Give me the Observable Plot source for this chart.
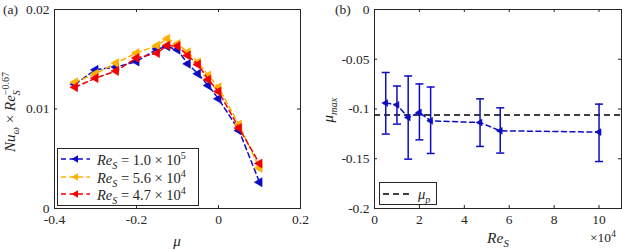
<!DOCTYPE html>
<html><head><meta charset="utf-8">
<script src="https://cdn.jsdelivr.net/npm/d3@7"></script>
<script src="https://cdn.jsdelivr.net/npm/@observablehq/plot@0.6"></script>
<style>
body{margin:0;background:#fff;}
#wrap{position:relative;width:622px;height:250px;overflow:hidden;font-family:"Liberation Serif","Times New Roman","DejaVu Serif",serif;color:#262626;}
#wrap svg.plot{position:absolute;top:0;}
.abs{position:absolute;white-space:nowrap;line-height:1;}
.m{font-style:italic;}
.lg{position:absolute;border:1.2px solid #262626;background:#fff;box-sizing:border-box;}
.row{position:absolute;left:0;white-space:nowrap;font-size:14.5px;line-height:1;}
sub,sup{font-size:70%;line-height:0;}
</style></head><body><div id="wrap"></div>
<script>
// ---------- data: panel (a) ----------
const muA = [-0.35, -0.30, -0.25, -0.20, -0.15, -0.125, -0.10, -0.075, -0.05, -0.025, 0, 0.05, 0.1];
const nuRe100k = [0.0125, 0.01394, 0.01422, 0.01477, 0.01603, 0.01628, 0.01595, 0.01454, 0.01354, 0.01236, 0.01102, 0.00784, 0.00264];
const nuRe56k  = [0.01269, 0.01354, 0.01462, 0.01563, 0.01638, 0.01706, 0.01655, 0.01571, 0.0147, 0.01337, 0.01219, 0.00844, 0.00407];
const nuRe47k  = [0.01219, 0.0131, 0.01382, 0.01513, 0.01561, 0.01638, 0.01633, 0.01538, 0.01447, 0.01296, 0.01176, 0.00809, 0.00452];
const seriesNamesA = ["1.0e5", "5.6e4", "4.7e4"];
const xTicksA = [-0.4, -0.2, 0, 0.2];
const xTickLabelsA = ["-0.4", "-0.2", "0", "0.2"];
const yTicksA = [0, 0.01, 0.02];
const yTickLabelsA = ["0", "0.01", "0.02"];

// ---------- data: panel (b) ----------
const reB = [0.5e4, 1.0e4, 1.5e4, 2.0e4, 2.5e4, 4.7e4, 5.6e4, 10e4];
const muMax = [-0.094, -0.0958, -0.1085, -0.1035, -0.1119, -0.1136, -0.1219, -0.1232];
const muHi = [-0.0633, -0.0769, -0.0668, -0.0748, -0.0779, -0.0898, -0.0988, -0.0951];
const muLo = [-0.1252, -0.1152, -0.1504, -0.131, -0.1447, -0.1376, -0.1443, -0.1528];
const muP = -0.1061;
const xTicksB = [0, 2e4, 4e4, 6e4, 8e4, 10e4];
const xTickLabelsB = ["0", "2", "4", "6", "8", "10"];
const yTicksB = [0, -0.05, -0.1, -0.15, -0.2];
const yTickLabelsB = ["0", "-0.05", "-0.1", "-0.15", "-0.2"];

// ---------- styles ----------
const BLUE = "#0C0CC2", YEL = "#FFB000", RED = "#F20000", AX = "#262626";
const colorsA = [BLUE, YEL, RED];
const H = 250, MT = 9, MB = 42, FH = H - MT - MB, TK = 3;
const dash = "5,3.5";
const FONT = '"Liberation Serif", "Times New Roman", "DejaVu Serif", serif';
const capSymbol = {draw(ctx, size) { const h = Math.sqrt(size / Math.PI); ctx.moveTo(-h, 0); ctx.lineTo(h, 0); }};
const style = {fontFamily: FONT, fontSize: "13.5px", color: AX, background: "transparent", overflow: "visible"};

const seriesA = [nuRe100k, nuRe56k, nuRe47k].map((vals, k) => muA.map((m, i) => ({mu: m, v: vals[i], s: seriesNamesA[k]})));

function boxTicks(xt, yt, fw, fh) {
  return [
    Plot.tickX(xt, {x: d => d, insetTop: fh - TK, stroke: AX}),
    Plot.tickX(xt, {x: d => d, insetBottom: fh - TK, stroke: AX}),
    Plot.tickY(yt, {y: d => d, insetRight: fw - TK, stroke: AX}),
    Plot.tickY(yt, {y: d => d, insetLeft: fw - TK, stroke: AX})
  ];
}

// Panel (a)
const WA = 330, MLA = 54, MRA = 30;
const plotA = Plot.plot({
  width: WA, height: H, marginLeft: MLA, marginRight: MRA, marginTop: MT, marginBottom: MB,
  style,
  x: {domain: [-0.4, 0.2], label: null},
  y: {domain: [0, 0.02], label: null},
  marks: [
    ...seriesA.flatMap((rows, k) => [
      Plot.line(rows, {x: "mu", y: "v", stroke: colorsA[k], strokeWidth: 1.5, strokeDasharray: dash}),
      Plot.dot(rows, {x: "mu", y: "v", symbol: "triangle", r: 3.3, rotate: -90, fill: colorsA[k], stroke: colorsA[k], strokeWidth: 0.6})
    ]),
    Plot.frame({stroke: AX}),
    ...boxTicks(xTicksA, yTicksA, WA - MLA - MRA, FH),
    Plot.axisX(xTicksA, {tickSize: 0, tickPadding: 6, tickFormat: (d, i) => xTickLabelsA[i], fill: AX}),
    Plot.axisY(yTicksA, {tickSize: 0, tickPadding: 5, tickFormat: (d, i) => yTickLabelsA[i], fill: AX})
  ]
});
plotA.style.left = "0px";

// Panel (b)
const WB = 292, MLB = 44, MRB = 1;
const rowsB = reB.map((r, i) => ({re: r, mu: muMax[i], hi: muHi[i], lo: muLo[i]}));
const plotB = Plot.plot({
  width: WB, height: H, marginLeft: MLB, marginRight: MRB, marginTop: MT, marginBottom: MB,
  style,
  x: {domain: [0, 11e4], label: null},
  y: {domain: [-0.2, 0], label: null},
  marks: [
    Plot.ruleY([muP], {stroke: "#000", strokeWidth: 1.5, strokeDasharray: "6,4"}),
    Plot.ruleX(rowsB, {x: "re", y1: "lo", y2: "hi", stroke: BLUE, strokeWidth: 1.5}),
    Plot.dot(rowsB, {x: "re", y: "lo", symbol: capSymbol, r: 4, stroke: BLUE, strokeWidth: 1.5, fill: "none"}),
    Plot.dot(rowsB, {x: "re", y: "hi", symbol: capSymbol, r: 4, stroke: BLUE, strokeWidth: 1.5, fill: "none"}),
    Plot.line(rowsB, {x: "re", y: "mu", stroke: BLUE, strokeWidth: 1.5, strokeDasharray: dash}),
    Plot.dot(rowsB, {x: "re", y: "mu", symbol: "triangle", r: 2.5, rotate: -90, fill: BLUE, stroke: BLUE, strokeWidth: 0.6}),
    Plot.frame({stroke: AX}),
    ...boxTicks(xTicksB, yTicksB, WB - MLB - MRB, FH),
    Plot.axisX(xTicksB, {tickSize: 0, tickPadding: 6, tickFormat: (d, i) => xTickLabelsB[i], fill: AX}),
    Plot.axisY(yTicksB, {tickSize: 0, tickPadding: 5, tickFormat: (d, i) => yTickLabelsB[i], fill: AX})
  ]
});
plotB.style.left = "330px";

const wrap = document.getElementById("wrap");
plotA.classList.add("plot"); plotB.classList.add("plot");
wrap.appendChild(plotA);
wrap.appendChild(plotB);

function add(html, css) {
  const d = document.createElement("div");
  d.className = "abs";
  d.innerHTML = html;
  Object.assign(d.style, css);
  wrap.appendChild(d);
  return d;
}
// panel labels
add("(a)", {left: "3px", top: "3px", fontSize: "13.5px"});
add("(b)", {left: "335px", top: "3px", fontSize: "13.5px"});
// axis labels
add('<span class="m">μ</span>', {left: "177px", top: "241px", fontSize: "15px", transform: "translate(-50%,-50%)"});
add('<span class="m">Re</span><sub class="m">S</sub>', {left: "498px", top: "238px", fontSize: "15.5px", transform: "translate(-50%,-50%)"});
add('×10<sup>4</sup>', {left: "590px", top: "231px", fontSize: "13.5px"});
add('<span class="m">Nu</span><sub class="m">ω</sub> × <span class="m">Re</span><span style="display:inline-block;vertical-align:-0.45em;line-height:1.05;font-size:10px;"><span style="display:block">−0.67</span><span style="display:block" class="m">S</span></span>',
  {left: "11px", top: "112px", fontSize: "15px", transform: "translate(-50%,-50%) rotate(-90deg)"});
add('<span class="m">μ</span><sub class="m">max</sub>', {left: "328px", top: "110px", fontSize: "15px", transform: "translate(-50%,-50%) rotate(-90deg)"});

// legends
function sample(color, tri) {
  return `<svg width="32" height="10" style="position:absolute;left:3px;top:0px;overflow:visible">
    <line x1="0" y1="5" x2="29" y2="5" stroke="${color}" stroke-width="1.5" stroke-dasharray="5,3.5"/>
    ${tri ? `<path d="M10.5,5 L17,1.3 L17,8.7 Z" fill="${color}"/>` : ""}
  </svg>`;
}
const lgA = document.createElement("div");
lgA.className = "lg";
Object.assign(lgA.style, {left: "57px", top: "148px", width: "142px", height: "58px"});
const legLabels = [["1.0", "5"], ["5.6", "4"], ["4.7", "4"]];
legLabels.forEach(([m, e], k) => {
  const r = document.createElement("div");
  r.className = "row";
  r.style.top = (5 + k * 17.5) + "px";
  r.style.width = "140px";
  r.style.height = "14px";
  r.innerHTML = sample(colorsA[k], true) + `<span style="position:absolute;left:39px;top:-1px"><span class="m">Re</span><sub class="m">S</sub> = ${m} × 10<sup>${e}</sup></span>`;
  lgA.appendChild(r);
});
wrap.appendChild(lgA);

const lgB = document.createElement("div");
lgB.className = "lg";
Object.assign(lgB.style, {left: "379px", top: "182px", width: "58px", height: "23px"});
const rb = document.createElement("div");
rb.className = "row";
rb.style.top = "4px"; rb.style.width = "56px"; rb.style.height = "14px";
rb.innerHTML = `<svg width="32" height="10" style="position:absolute;left:3px;top:2px;overflow:visible"><line x1="0" y1="5" x2="29" y2="5" stroke="#000" stroke-width="1.5" stroke-dasharray="6,4"/></svg><span style="position:absolute;left:38px;top:0"><span class="m">μ</span><sub class="m">p</sub></span>`;
lgB.appendChild(rb);
wrap.appendChild(lgB);
</script>
</body></html>
